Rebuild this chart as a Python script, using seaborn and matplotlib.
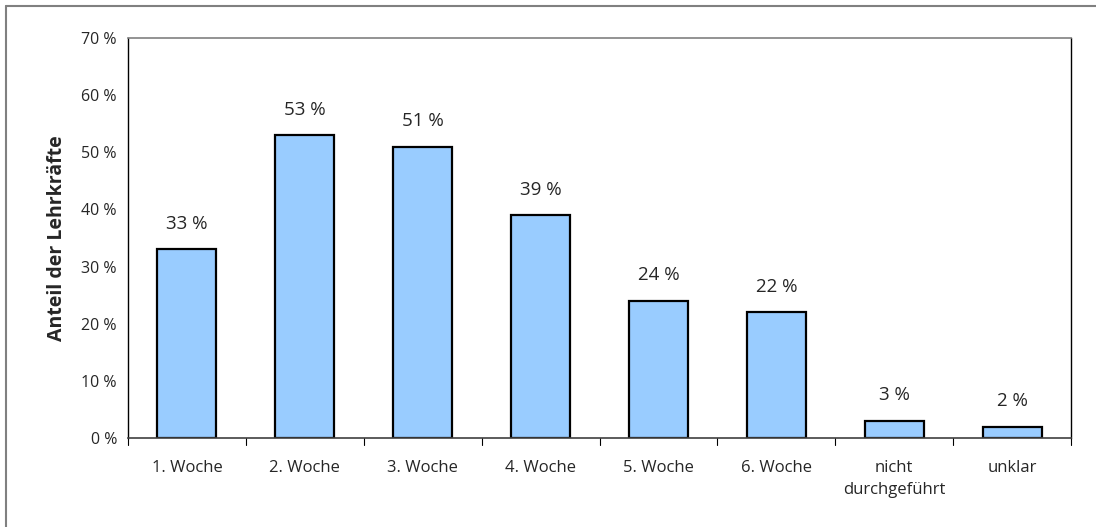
import matplotlib
matplotlib.use('Agg')
import matplotlib.pyplot as plt
import seaborn as sb
import pandas as pd
from matplotlib.lines import Line2D

# daten
kategorien = ['1. Woche', '2. Woche', '3. Woche', '4. Woche', '5. Woche',
              '6. Woche', 'nicht\ndurchgeführt', 'unklar']
anteile = [33, 53, 51, 39, 24, 22, 3, 2]
y_ticks = [0, 10, 20, 30, 40, 50, 60, 70]

sb.set_style('white')
plt.rcParams['font.family'] = ['Open Sans', 'DejaVu Sans']

df = pd.DataFrame({'kategorie': kategorien, 'anteil': anteile})

fig = plt.figure(figsize=(10.96, 5.27), dpi=100)
ax = fig.add_axes([128 / 1096, 1 - 438 / 527, (1071 - 128) / 1096, 400 / 527])

sb.barplot(data=df, x='kategorie', y='anteil', color='#99CCFF', width=0.5,
           edgecolor='black', linewidth=1.6, saturation=1, ax=ax)

for i, v in enumerate(anteile):
    ax.text(i, v + 2.9, '{} %'.format(v), ha='center', va='bottom', fontsize=13.5)

ax.set_ylim(0, 70)
ax.set_xlim(-0.5, len(kategorien) - 0.5)
ax.set_yticks(y_ticks)
ax.set_yticklabels(['{} %'.format(t) for t in y_ticks], fontsize=11.5)
ax.tick_params(axis='y', length=0, pad=8)
ax.tick_params(axis='x', length=0, pad=16, labelsize=12)
for lbl in ax.get_xticklabels():
    lbl.set_linespacing(1.45)
# tick marks between categories
for k in range(len(kategorien) + 1):
    ax.plot([k - 0.5, k - 0.5], [0, -1.2], color='black', lw=0.8, clip_on=False)
ax.set_xlabel('')
ax.set_ylabel('Anteil der Lehrkräfte', fontsize=14, fontweight='bold', labelpad=10)

for side in ['left', 'right']:
    ax.spines[side].set_color('black')
    ax.spines[side].set_linewidth(1.0)
ax.spines['top'].set_color('#808080')
ax.spines['top'].set_linewidth(1.2)
ax.spines['bottom'].set_color('#404040')
ax.spines['bottom'].set_linewidth(1.2)

# grauer rahmen oben und links
fig.add_artist(Line2D([6 / 1096, 1], [1 - 6 / 527, 1 - 6 / 527], color='#808080', lw=1.5))
fig.add_artist(Line2D([6 / 1096, 6 / 1096], [0, 1 - 6 / 527], color='#808080', lw=1.5))

plt.savefig('out.png', dpi=100)
